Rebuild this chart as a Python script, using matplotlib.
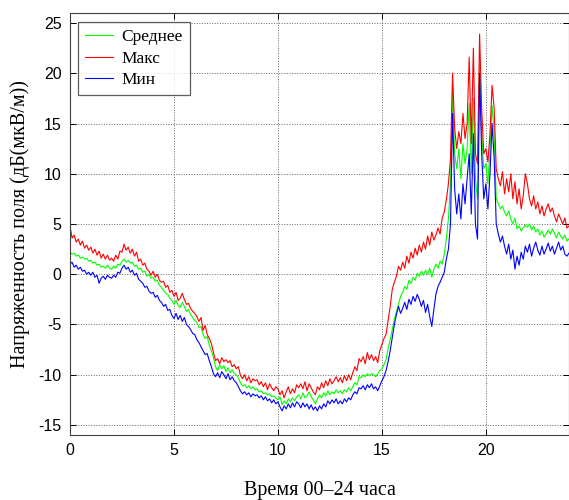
import numpy as np
import matplotlib
matplotlib.use('Agg')
import matplotlib.pyplot as plt

# hours 0..24, step 0.1 h
times = np.round(np.arange(0, 24.05, 0.1), 1)

mean_vals = [
    2.2, 2.0, 2.1, 1.8, 1.9, 1.6, 1.7, 1.5, 1.6, 1.3,
    1.4, 1.1, 1.2, 0.9, 1.0, 0.7, 0.8, 0.6, 0.9, 0.6,
    0.5, 0.8, 0.6, 1.0, 0.9, 1.3, 1.5, 1.2, 1.4, 1.1,
    1.2, 0.8, 0.9, 0.5, 0.6, 0.2, 0.3, -0.2, 0.0, -0.4,
    -0.3, -0.7, -0.6, -1.1, -1.3, -1.6, -1.9, -2.0, -2.4, -2.6,
    -3.0, -2.6, -3.1, -3.3, -2.8, -3.2, -3.7, -3.5, -4.0, -4.3,
    -4.6, -4.8, -5.3, -5.2, -6.0, -6.4, -6.2, -7.1, -7.6, -8.3,
    -9.2, -9.6, -9.0, -9.4, -9.1, -9.7, -9.3, -9.8, -9.5, -9.9,
    -10.0, -10.3, -10.8, -11.1, -11.0, -11.3, -11.1, -11.4, -11.2, -11.5,
    -11.4, -11.7, -11.6, -11.9, -11.8, -12.0, -11.9, -12.2, -12.1, -12.3,
    -12.5, -12.2, -13.0, -12.6, -12.9, -12.4, -12.7, -12.3, -12.6, -12.2,
    -12.0, -12.4, -11.8, -12.3, -12.1, -11.7, -12.2, -12.5, -12.9, -12.4,
    -12.0, -12.3, -11.8, -12.1, -11.6, -12.0, -11.7, -11.9, -11.5, -11.8,
    -11.6, -11.9, -11.5, -11.7, -11.3, -11.6, -11.2, -10.8, -11.0, -10.2,
    -10.3, -10.0, -10.2, -9.9, -10.1, -9.9, -10.0, -10.2, -9.9, -9.6,
    -9.4, -9.0, -8.5, -7.4, -6.5, -5.5, -4.5, -3.7, -3.0, -2.2,
    -1.8, -1.2, -1.5, -0.6, -0.9, -0.3, -0.6, 0.1, -0.2, 0.3,
    -0.1, 0.4, 0.0, 0.6, -0.3, 0.5, 1.0, 0.6, 1.3, 1.0,
    2.0, 3.5, 5.5, 9.0, 18.5, 12.0, 10.5, 12.5, 9.5, 13.0,
    11.0, 12.5, 17.0, 10.0, 17.5, 9.5, 7.5, 21.0, 14.0, 10.5,
    11.0, 9.0, 12.5, 16.8, 14.0, 7.5, 7.0, 6.5, 6.8, 6.2,
    5.8, 6.3, 5.5, 5.0, 5.6, 4.5, 4.8, 4.3, 4.6, 4.9,
    4.7, 5.0, 4.4, 4.8, 4.2, 4.5, 3.9, 4.3, 3.7, 4.0,
    4.4, 4.0, 4.5, 4.1, 3.6, 4.2, 3.8, 3.5, 3.9, 3.3,
    3.5,
]

max_vals = [
    4.8, 3.6, 3.9, 3.2, 3.5, 2.9, 3.3, 2.6, 2.9, 2.4,
    2.7, 2.1, 2.5, 1.9, 2.3, 1.6, 2.0, 1.5, 1.9, 1.4,
    1.6, 1.3, 1.9, 1.5, 2.3, 2.2, 3.0, 2.4, 2.7, 2.1,
    2.5, 1.8, 2.2, 1.3, 1.5, 0.9, 1.1, 0.5, 0.3, -0.1,
    0.3, -0.3, 0.0, -0.6, -0.8, -0.7, -1.3, -1.1, -1.8, -1.6,
    -2.2, -1.8, -2.6, -2.4, -1.9, -2.5, -3.0, -2.9, -3.4, -3.7,
    -3.9, -4.2, -4.7, -4.3, -5.6, -5.1, -6.0, -6.4, -6.9, -7.8,
    -8.6, -8.4, -8.9, -8.3, -8.7, -8.5, -8.8, -8.6, -9.2, -9.0,
    -9.4, -9.2, -10.1, -10.4, -10.0, -10.6, -10.2, -10.8, -10.4, -10.6,
    -10.5, -11.0, -10.7, -11.2, -10.8, -11.5, -10.9, -11.3, -11.6, -11.2,
    -11.4, -12.0, -11.6, -12.3, -11.7, -11.2, -11.9, -11.4, -11.8, -11.0,
    -11.3, -10.9, -11.4, -10.7, -11.6, -10.9, -11.3, -11.7, -12.0, -11.2,
    -11.5, -10.8, -11.3, -10.6, -11.1, -10.4, -10.9, -10.6, -10.2, -10.7,
    -10.3, -10.8, -10.1, -10.6, -10.0, -10.5, -9.8, -9.2, -9.6, -8.4,
    -8.7, -8.2, -8.9, -7.8, -8.5, -8.0, -8.6, -8.2, -8.8, -7.6,
    -7.0, -6.4, -6.0, -4.6, -3.2, -1.5, -0.8, -0.2, 0.8, 0.4,
    1.2, 0.6, 1.8, 1.1, 2.2, 1.6, 2.6, 1.9, 2.9, 2.2,
    3.2, 2.5, 3.8, 2.9, 4.2, 3.4, 3.9, 4.6, 4.0, 5.6,
    6.2, 7.4, 9.0, 11.5, 20.0, 14.5, 12.5, 14.2, 13.0, 16.0,
    13.5, 15.0, 21.6, 13.0, 22.5, 12.0, 11.0, 23.9, 16.5, 12.0,
    12.5, 11.2, 14.0, 18.8, 16.5, 10.5, 9.5, 8.8, 10.2, 8.0,
    9.5, 8.2, 10.0, 7.5, 9.2, 7.0, 8.5, 6.5, 7.8, 10.0,
    9.0, 7.5, 6.8, 7.8, 6.5, 7.2, 6.0, 6.8, 5.8, 6.5,
    7.0, 6.2, 6.6, 5.8, 5.2, 6.0, 5.5, 5.0, 5.6, 4.6,
    4.8,
]

min_vals = [
    1.0, 1.2, 0.7, 0.9, 0.5, 0.7, 0.3, 0.4, 0.0, 0.2,
    -0.1, 0.2, -0.3, -0.1, -0.9, -0.4, -0.2, -0.5, -0.1, -0.3,
    -0.4, -0.1, -0.3, 0.2, 0.1, 0.6, 0.9, 0.5, 0.7, 0.2,
    0.4, -0.1, 0.1, -0.5, -0.7, -0.9, -1.3, -1.2, -1.7, -1.9,
    -1.8, -2.3, -2.1, -2.6, -2.8, -3.2, -3.0, -3.6, -3.5, -4.1,
    -4.4, -3.9, -4.5, -4.1, -4.7, -4.3, -5.0, -5.2, -5.5, -5.9,
    -6.0, -6.5, -6.8, -7.2, -7.6, -8.0, -7.9, -8.6, -9.2, -9.9,
    -10.2, -9.8, -10.3, -9.7, -10.0, -10.4, -9.9, -10.5, -10.2, -10.6,
    -10.8, -11.2, -11.6, -11.9, -11.7, -12.0, -11.8, -12.2, -11.9, -12.1,
    -12.0, -12.3, -12.1, -12.5, -12.2, -12.6, -12.4, -12.8, -12.5, -12.9,
    -12.7, -13.2, -13.6, -13.1, -13.4, -12.9, -13.3, -12.8, -13.2, -12.7,
    -12.9, -13.3, -12.8, -13.2, -12.9, -13.4, -13.0, -13.5, -13.2, -13.6,
    -13.1, -13.4, -12.9, -13.2, -12.6, -12.9, -12.5, -12.8, -12.4, -12.9,
    -12.6, -12.9, -12.4, -12.7, -12.3, -12.5, -12.0, -11.7, -11.9, -11.3,
    -11.4, -11.1, -11.5, -11.0, -11.3, -10.9, -11.4, -11.2, -11.6, -11.1,
    -10.6, -10.2, -9.6, -8.7, -7.6, -6.3, -5.0, -4.0, -3.2, -3.9,
    -3.4, -2.8, -3.5, -2.5, -3.0, -2.2, -2.7, -2.0, -2.5, -3.2,
    -2.6, -3.8, -3.0, -4.2, -5.2, -3.5, -2.0, -1.2, -0.8, -0.3,
    0.2, 1.5, 2.5, 5.0, 16.0, 8.5, 6.0, 8.0, 5.5, 9.0,
    7.0, 9.5, 12.0, 6.0, 14.0, 5.0, 3.5, 20.0, 12.0, 7.5,
    9.0, 6.5, 10.0, 15.0, 11.5, 5.0, 4.0, 3.2, 3.8, 2.8,
    2.0, 3.0, 1.5, 2.4, 0.5, 1.8, 0.9, 2.2, 1.5, 2.8,
    2.2, 3.0, 1.8, 2.6, 3.2, 2.4, 1.9, 2.8, 2.0, 2.5,
    3.1, 2.3, 2.8, 2.0, 2.6, 3.2, 2.4, 2.8, 2.0, 1.8,
    2.1,
]

labels = ['Среднее', 'Макс', 'Мин']

serif = ['Liberation Serif', 'DejaVu Serif']
sans = ['Liberation Sans', 'DejaVu Sans']
plt.rcParams['axes.unicode_minus'] = False

fig = plt.figure(figsize=(5.69, 5.0), dpi=100)
ax = fig.add_axes([70/569, 65/500, 499/569, 422/500])

ax.plot(times, mean_vals, color=(0, 1, 0), lw=0.8, label=labels[0])
ax.plot(times, max_vals, color=(1, 0, 0), lw=0.8, label=labels[1])
ax.plot(times, min_vals, color=(0, 0, 1), lw=0.8, label=labels[2])

ax.set_xlim(0, 24)
ax.set_ylim(-16, 26)
ax.set_xticks([0, 5, 10, 15, 20])
ax.set_yticks(range(-15, 30, 5))
ax.grid(True, linestyle=':', color='0.4', lw=0.7)
ax.tick_params(direction='in', top=True, right=True, length=4, width=0.7,
               labelsize=11.5, pad=6)
for lab in ax.get_xticklabels() + ax.get_yticklabels():
    lab.set_family(sans)
for s in ax.spines.values():
    s.set_linewidth(0.8)
    s.set_color('0.25')

ax.set_xlabel('Время 00–24 часа', family=serif, fontsize=14.5, labelpad=16)
ax.set_ylabel('Напряженность поля (дБ(мкВ/м))', family=serif, fontsize=14.5, labelpad=6)

leg = ax.legend(loc='upper left', bbox_to_anchor=(0.016, 0.979), borderaxespad=0,
                prop={'family': serif, 'size': 12.5}, fancybox=False,
                handlelength=1.6, labelspacing=0.32, borderpad=0.4, handletextpad=0.5)
leg.get_frame().set_edgecolor('0.2')
leg.get_frame().set_linewidth(0.9)

fig.savefig('out.png', dpi=100)
